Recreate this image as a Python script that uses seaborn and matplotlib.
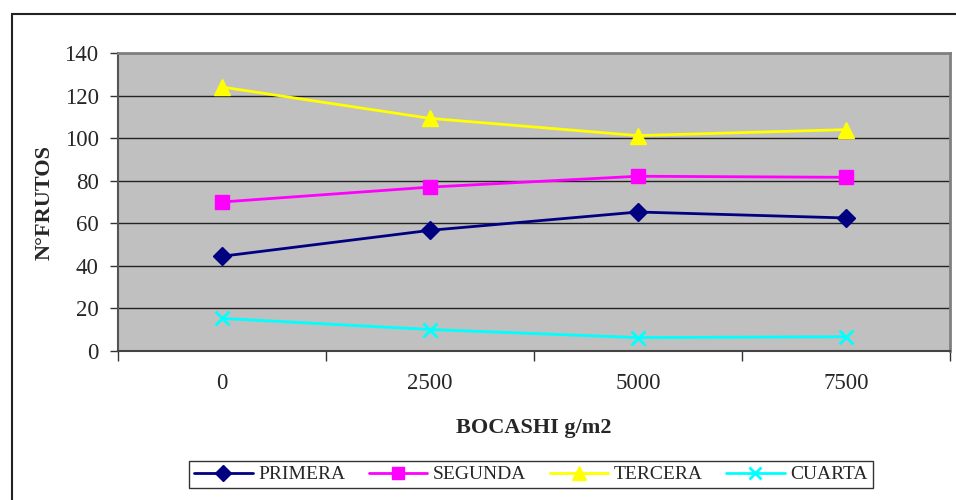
import matplotlib
matplotlib.use("Agg")
import matplotlib.pyplot as plt
import matplotlib.patches as mpatches
import seaborn as sns
import pandas as pd

# Bocashi dose (g/m2) and number of fruits per harvest
dosis = ["0", "2500", "5000", "7500"]
primera = [44.5, 56.7, 65.3, 62.5]
segunda = [70.0, 77.0, 82.1, 81.6]
tercera = [124.0, 109.3, 101.2, 104.0]
cuarta = [15.3, 10.1, 6.3, 6.7]

series = {"PRIMERA": primera, "SEGUNDA": segunda, "TERCERA": tercera, "CUARTA": cuarta}
colors = {"PRIMERA": "#000080", "SEGUNDA": "#FF00FF", "TERCERA": "#FFFF00", "CUARTA": "#00FFFF"}
markers = {"PRIMERA": "D", "SEGUNDA": "s", "TERCERA": "^", "CUARTA": "x"}
msize = {"PRIMERA": 9, "SEGUNDA": 10.5, "TERCERA": 11.5, "CUARTA": 9.5}

rows = []
for name, vals in series.items():
    for d, v in zip(dosis, vals):
        rows.append({"dosis": d, "frutos": v, "serie": name})
df = pd.DataFrame(rows)

sns.set_style("white")
plt.rcParams["font.family"] = ["Liberation Serif", "DejaVu Serif"]

fig = plt.figure(figsize=(9.56, 5.0), dpi=100)
ax = fig.add_axes([118 / 956, 1 - 351 / 500, (950 - 118) / 956, (351 - 53) / 500])
ax.set_facecolor("#C0C0C0")

for name in series:
    sub = df[df["serie"] == name]
    sns.lineplot(data=sub, x="dosis", y="frutos", ax=ax, color=colors[name],
                 marker=markers[name], markersize=msize[name],
                 markeredgecolor=colors[name], markerfacecolor=colors[name],
                 markeredgewidth=2 if markers[name] == "x" else 1,
                 linewidth=2, label=name, legend=False, zorder=3)

ax.set_xlim(-0.5, len(dosis) - 0.5)
ax.set_ylim(0, 140)
ax.set_yticks(range(0, 141, 20))
ax.yaxis.grid(True, color="#222222", linewidth=1)
ax.set_axisbelow(True)

ax.set_xticks(range(len(dosis)))
ax.set_xticklabels(dosis)
ax.set_xticks([i - 0.5 for i in range(len(dosis) + 1)], minor=True)
ax.tick_params(axis="x", which="major", length=0, pad=16, labelsize=16.5)
ax.tick_params(axis="x", which="minor", length=7, width=1, color="#333333", direction="out")
ax.tick_params(axis="y", length=6, width=1, color="#333333", direction="out", labelsize=16.5, pad=8)
ax.xaxis.set_ticks_position("bottom")
ax.yaxis.set_ticks_position("left")

for side in ["top", "right"]:
    ax.spines[side].set_visible(True)
    ax.spines[side].set_color("#808080")
    ax.spines[side].set_linewidth(2)
ax.spines["left"].set_color("#555555")
ax.spines["left"].set_linewidth(1.5)
ax.spines["bottom"].set_color("#444444")
ax.spines["bottom"].set_linewidth(1.5)

ax.set_xlabel("BOCASHI g/m2", fontsize=16, fontweight="bold", labelpad=17)
ax.set_ylabel("N°FRUTOS", fontsize=16, fontweight="bold", labelpad=7)

handles = [plt.Line2D([], [], color=colors[n], marker=markers[n], markersize=msize[n] * 0.85,
                      markeredgewidth=2 if markers[n] == "x" else 1, linewidth=2)
           for n in series]
leg = fig.legend(handles, list(series.keys()), loc="center", ncol=4,
                 bbox_to_anchor=(531 / 956, 1 - 474.5 / 500), fontsize=14,
                 frameon=True, fancybox=False, edgecolor="black",
                 handlelength=3.0, handletextpad=0.3, columnspacing=1.2,
                 borderpad=0.25)
leg.get_frame().set_linewidth(1)

# outer chart border
fig.patches.append(mpatches.Rectangle((11.5 / 956, -0.1), 1.5, 1 - 14 / 500 + 0.1,
                                      transform=fig.transFigure, fill=False,
                                      edgecolor="#222222", linewidth=1.5))

fig.savefig("out.png", dpi=100)
